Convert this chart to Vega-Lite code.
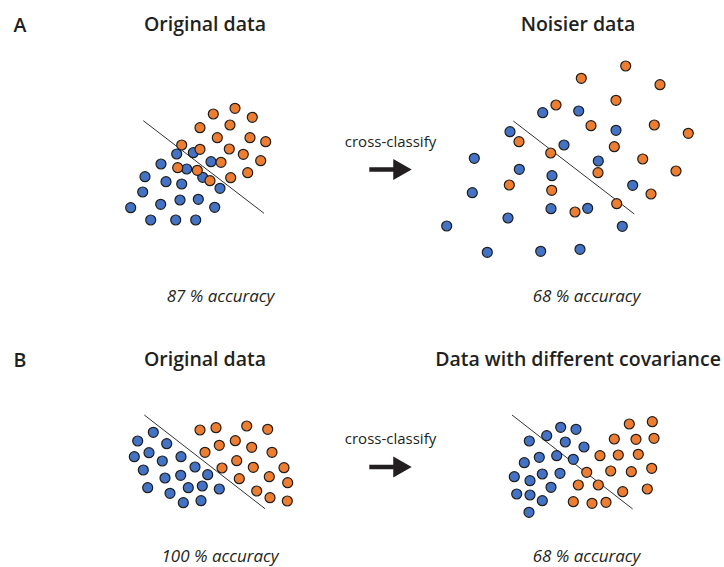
{
  "$schema": "https://vega.github.io/schema/vega-lite/v6.json",
  "padding": {"left": 13, "top": 10, "right": 2, "bottom": 2},
  "background": "white",
  "columns": 3,
  "bounds": "flush",
  "align": "each",
  "spacing": {"row": 78, "column": 0},
  "config": {
    "view": {"stroke": null},
    "axis": {"domain": false, "ticks": false, "labels": false, "grid": false},
    "title": {"font": "Open Sans", "fontSize": 19.5, "fontWeight": 600, "color": "#231f20", "baseline": "bottom", "anchor": "middle", "frame": "group"}
  },
  "datasets": {
    "steps": [{"step": "cross-classify"}],
    "lines": [
      {"panel": "A1", "x": 143.3, "y": 120.7, "x2": 264, "y2": 213.3},
      {"panel": "A2", "x": 513.3, "y": 121, "x2": 634.3, "y2": 214},
      {"panel": "B1", "x": 144.3, "y": 415, "x2": 265, "y2": 508.7},
      {"panel": "B2", "x": 512, "y": 415, "x2": 632.7, "y2": 509}
    ],
    "points": [
      {"panel": "A1", "cls": "class 1", "x": 176.7, "y": 154},
      {"panel": "A1", "cls": "class 1", "x": 193.3, "y": 152.7},
      {"panel": "A1", "cls": "class 1", "x": 211, "y": 161.7},
      {"panel": "A1", "cls": "class 1", "x": 161, "y": 164},
      {"panel": "A1", "cls": "class 1", "x": 186.7, "y": 169},
      {"panel": "A1", "cls": "class 1", "x": 145, "y": 176.7},
      {"panel": "A1", "cls": "class 1", "x": 166, "y": 181.7},
      {"panel": "A1", "cls": "class 1", "x": 181.7, "y": 184},
      {"panel": "A1", "cls": "class 1", "x": 202.7, "y": 177.3},
      {"panel": "A1", "cls": "class 1", "x": 220, "y": 188.3},
      {"panel": "A1", "cls": "class 1", "x": 142.7, "y": 192},
      {"panel": "A1", "cls": "class 1", "x": 160.7, "y": 204.3},
      {"panel": "A1", "cls": "class 1", "x": 180, "y": 200},
      {"panel": "A1", "cls": "class 1", "x": 198.3, "y": 199.3},
      {"panel": "A1", "cls": "class 1", "x": 214.7, "y": 207.3},
      {"panel": "A1", "cls": "class 1", "x": 130.7, "y": 207.7},
      {"panel": "A1", "cls": "class 1", "x": 150.7, "y": 220},
      {"panel": "A1", "cls": "class 1", "x": 175.7, "y": 220},
      {"panel": "A1", "cls": "class 1", "x": 195.7, "y": 220},
      {"panel": "A1", "cls": "class 2", "x": 235, "y": 108.3},
      {"panel": "A1", "cls": "class 2", "x": 213.3, "y": 114},
      {"panel": "A1", "cls": "class 2", "x": 252.3, "y": 117.3},
      {"panel": "A1", "cls": "class 2", "x": 200, "y": 127.7},
      {"panel": "A1", "cls": "class 2", "x": 230, "y": 125},
      {"panel": "A1", "cls": "class 2", "x": 217.3, "y": 137.7},
      {"panel": "A1", "cls": "class 2", "x": 250, "y": 137.7},
      {"panel": "A1", "cls": "class 2", "x": 265.7, "y": 141.7},
      {"panel": "A1", "cls": "class 2", "x": 181.7, "y": 145},
      {"panel": "A1", "cls": "class 2", "x": 200, "y": 149.3},
      {"panel": "A1", "cls": "class 2", "x": 229.3, "y": 149},
      {"panel": "A1", "cls": "class 2", "x": 243.3, "y": 154.3},
      {"panel": "A1", "cls": "class 2", "x": 260.7, "y": 160.7},
      {"panel": "A1", "cls": "class 2", "x": 221, "y": 162.3},
      {"panel": "A1", "cls": "class 2", "x": 177.7, "y": 167.7},
      {"panel": "A1", "cls": "class 2", "x": 197.3, "y": 170.3},
      {"panel": "A1", "cls": "class 2", "x": 247.7, "y": 172.7},
      {"panel": "A1", "cls": "class 2", "x": 230.7, "y": 177.7},
      {"panel": "A1", "cls": "class 2", "x": 210, "y": 180.7},
      {"panel": "A2", "cls": "class 1", "x": 542.7, "y": 112.7},
      {"panel": "A2", "cls": "class 1", "x": 578.7, "y": 111},
      {"panel": "A2", "cls": "class 1", "x": 510, "y": 131.7},
      {"panel": "A2", "cls": "class 1", "x": 616, "y": 130.3},
      {"panel": "A2", "cls": "class 1", "x": 564, "y": 145},
      {"panel": "A2", "cls": "class 1", "x": 474.3, "y": 158.3},
      {"panel": "A2", "cls": "class 1", "x": 598.3, "y": 161},
      {"panel": "A2", "cls": "class 1", "x": 519.3, "y": 169.3},
      {"panel": "A2", "cls": "class 1", "x": 552, "y": 175.7},
      {"panel": "A2", "cls": "class 1", "x": 632.7, "y": 185.3},
      {"panel": "A2", "cls": "class 1", "x": 472.3, "y": 192.7},
      {"panel": "A2", "cls": "class 1", "x": 551, "y": 208.7},
      {"panel": "A2", "cls": "class 1", "x": 587.7, "y": 208.3},
      {"panel": "A2", "cls": "class 1", "x": 508, "y": 218},
      {"panel": "A2", "cls": "class 1", "x": 446.7, "y": 226},
      {"panel": "A2", "cls": "class 1", "x": 622.3, "y": 226.3},
      {"panel": "A2", "cls": "class 1", "x": 487.3, "y": 252.3},
      {"panel": "A2", "cls": "class 1", "x": 540.7, "y": 251.3},
      {"panel": "A2", "cls": "class 1", "x": 580, "y": 249.3},
      {"panel": "A2", "cls": "class 2", "x": 625.7, "y": 66},
      {"panel": "A2", "cls": "class 2", "x": 581.3, "y": 78.3},
      {"panel": "A2", "cls": "class 2", "x": 660, "y": 84.7},
      {"panel": "A2", "cls": "class 2", "x": 556, "y": 105},
      {"panel": "A2", "cls": "class 2", "x": 616, "y": 100.3},
      {"panel": "A2", "cls": "class 2", "x": 591, "y": 125.7},
      {"panel": "A2", "cls": "class 2", "x": 654.3, "y": 125},
      {"panel": "A2", "cls": "class 2", "x": 688.3, "y": 133.3},
      {"panel": "A2", "cls": "class 2", "x": 519, "y": 141.7},
      {"panel": "A2", "cls": "class 2", "x": 614.3, "y": 146.7},
      {"panel": "A2", "cls": "class 2", "x": 550.7, "y": 153},
      {"panel": "A2", "cls": "class 2", "x": 642.7, "y": 159},
      {"panel": "A2", "cls": "class 2", "x": 676, "y": 171},
      {"panel": "A2", "cls": "class 2", "x": 598, "y": 172.7},
      {"panel": "A2", "cls": "class 2", "x": 509.3, "y": 185},
      {"panel": "A2", "cls": "class 2", "x": 551.7, "y": 190.3},
      {"panel": "A2", "cls": "class 2", "x": 651, "y": 194},
      {"panel": "A2", "cls": "class 2", "x": 616.7, "y": 203.7},
      {"panel": "A2", "cls": "class 2", "x": 575, "y": 212},
      {"panel": "B1", "cls": "class 1", "x": 153.3, "y": 432.3},
      {"panel": "B1", "cls": "class 1", "x": 137.7, "y": 441},
      {"panel": "B1", "cls": "class 1", "x": 166.7, "y": 443.7},
      {"panel": "B1", "cls": "class 1", "x": 149, "y": 452.7},
      {"panel": "B1", "cls": "class 1", "x": 134.3, "y": 456.7},
      {"panel": "B1", "cls": "class 1", "x": 181, "y": 456.7},
      {"panel": "B1", "cls": "class 1", "x": 162.3, "y": 461},
      {"panel": "B1", "cls": "class 1", "x": 143.3, "y": 470},
      {"panel": "B1", "cls": "class 1", "x": 195, "y": 467},
      {"panel": "B1", "cls": "class 1", "x": 207.7, "y": 474.7},
      {"panel": "B1", "cls": "class 1", "x": 165, "y": 478},
      {"panel": "B1", "cls": "class 1", "x": 180.7, "y": 475.3},
      {"panel": "B1", "cls": "class 1", "x": 147.7, "y": 487.7},
      {"panel": "B1", "cls": "class 1", "x": 202.3, "y": 486},
      {"panel": "B1", "cls": "class 1", "x": 188.3, "y": 487.7},
      {"panel": "B1", "cls": "class 1", "x": 219.3, "y": 489},
      {"panel": "B1", "cls": "class 1", "x": 170, "y": 493.3},
      {"panel": "B1", "cls": "class 1", "x": 183.3, "y": 502.7},
      {"panel": "B1", "cls": "class 1", "x": 201, "y": 500.7},
      {"panel": "B1", "cls": "class 2", "x": 200, "y": 430},
      {"panel": "B1", "cls": "class 2", "x": 216, "y": 427.7},
      {"panel": "B1", "cls": "class 2", "x": 246.7, "y": 426},
      {"panel": "B1", "cls": "class 2", "x": 267.7, "y": 429.3},
      {"panel": "B1", "cls": "class 2", "x": 235.3, "y": 440.7},
      {"panel": "B1", "cls": "class 2", "x": 219.3, "y": 445.3},
      {"panel": "B1", "cls": "class 2", "x": 251.7, "y": 447.3},
      {"panel": "B1", "cls": "class 2", "x": 205, "y": 452.3},
      {"panel": "B1", "cls": "class 2", "x": 272, "y": 452.3},
      {"panel": "B1", "cls": "class 2", "x": 236.7, "y": 460.7},
      {"panel": "B1", "cls": "class 2", "x": 222, "y": 468},
      {"panel": "B1", "cls": "class 2", "x": 253.3, "y": 467.3},
      {"panel": "B1", "cls": "class 2", "x": 284, "y": 467.7},
      {"panel": "B1", "cls": "class 2", "x": 239.3, "y": 478.7},
      {"panel": "B1", "cls": "class 2", "x": 269.3, "y": 476.7},
      {"panel": "B1", "cls": "class 2", "x": 287.7, "y": 482.7},
      {"panel": "B1", "cls": "class 2", "x": 256.7, "y": 491},
      {"panel": "B1", "cls": "class 2", "x": 270, "y": 497.7},
      {"panel": "B1", "cls": "class 2", "x": 287.3, "y": 501},
      {"panel": "B2", "cls": "class 1", "x": 560.7, "y": 427.3},
      {"panel": "B2", "cls": "class 1", "x": 576, "y": 429.3},
      {"panel": "B2", "cls": "class 1", "x": 546.7, "y": 435.7},
      {"panel": "B2", "cls": "class 1", "x": 529.3, "y": 441},
      {"panel": "B2", "cls": "class 1", "x": 565.3, "y": 442},
      {"panel": "B2", "cls": "class 1", "x": 584, "y": 447},
      {"panel": "B2", "cls": "class 1", "x": 539.3, "y": 457.3},
      {"panel": "B2", "cls": "class 1", "x": 556.7, "y": 455.7},
      {"panel": "B2", "cls": "class 1", "x": 573.3, "y": 459.3},
      {"panel": "B2", "cls": "class 1", "x": 524.3, "y": 462.7},
      {"panel": "B2", "cls": "class 1", "x": 542.3, "y": 474},
      {"panel": "B2", "cls": "class 1", "x": 560, "y": 473.3},
      {"panel": "B2", "cls": "class 1", "x": 514.3, "y": 476.7},
      {"panel": "B2", "cls": "class 1", "x": 530, "y": 480.7},
      {"panel": "B2", "cls": "class 1", "x": 551, "y": 487.3},
      {"panel": "B2", "cls": "class 1", "x": 516.7, "y": 494},
      {"panel": "B2", "cls": "class 1", "x": 530, "y": 495},
      {"panel": "B2", "cls": "class 1", "x": 542.3, "y": 500.7},
      {"panel": "B2", "cls": "class 1", "x": 529, "y": 512.3},
      {"panel": "B2", "cls": "class 2", "x": 629.3, "y": 424},
      {"panel": "B2", "cls": "class 2", "x": 652.3, "y": 421.7},
      {"panel": "B2", "cls": "class 2", "x": 614.3, "y": 439},
      {"panel": "B2", "cls": "class 2", "x": 636, "y": 439.3},
      {"panel": "B2", "cls": "class 2", "x": 654, "y": 438.3},
      {"panel": "B2", "cls": "class 2", "x": 600, "y": 455.7},
      {"panel": "B2", "cls": "class 2", "x": 618.3, "y": 455},
      {"panel": "B2", "cls": "class 2", "x": 638.3, "y": 454.3},
      {"panel": "B2", "cls": "class 2", "x": 586.7, "y": 472.3},
      {"panel": "B2", "cls": "class 2", "x": 610.7, "y": 471},
      {"panel": "B2", "cls": "class 2", "x": 631.3, "y": 471.7},
      {"panel": "B2", "cls": "class 2", "x": 651.7, "y": 468.3},
      {"panel": "B2", "cls": "class 2", "x": 578.3, "y": 485},
      {"panel": "B2", "cls": "class 2", "x": 598.3, "y": 485},
      {"panel": "B2", "cls": "class 2", "x": 622.7, "y": 491.7},
      {"panel": "B2", "cls": "class 2", "x": 647.3, "y": 489},
      {"panel": "B2", "cls": "class 2", "x": 573.3, "y": 501.7},
      {"panel": "B2", "cls": "class 2", "x": 592, "y": 503.3},
      {"panel": "B2", "cls": "class 2", "x": 606, "y": 502.3}
    ]
  },
  "concat": [
    {
      "width": 170, "height": 252,
      "title": {"text": "Original data", "offset": -25},
      "encoding": {
        "x": {"field": "x", "type": "quantitative", "scale": {"domain": [120, 290], "nice": false, "zero": false},
              "axis": {"title": "87 % accuracy", "titleFont": "Open Sans", "titleFontStyle": "italic", "titleFontWeight": "normal", "titleFontSize": 17, "titleColor": "#231f20", "titleX": 100, "titleY": 39, "titleBaseline": "alphabetic", "titleAlign": "center"}},
        "y": {"field": "y", "type": "quantitative", "scale": {"domain": [10, 262], "reverse": true, "nice": false, "zero": false},
              "axis": {"title": "A", "titleFont": "Open Sans", "titleFontWeight": 600, "titleFontSize": 19.5, "titleColor": "#231f20", "titleAngle": 0, "titleAlign": "left", "titleBaseline": "alphabetic", "titleX": -107, "titleY": 21}}
      },
      "layer": [
        {"data": {"name": "lines"}, "transform": [{"filter": "datum.panel === 'A1'"}],
         "mark": {"type": "rule", "color": "#333333", "strokeWidth": 1},
         "encoding": {"x2": {"field": "x2"}, "y2": {"field": "y2"}}},
        {"data": {"name": "points"}, "transform": [{"filter": "datum.panel === 'A1'"}],
         "mark": {"type": "point", "filled": true, "size": 100, "stroke": "#1e1e1e", "strokeWidth": 1.2, "opacity": 1},
         "encoding": {"color": {"field": "cls", "type": "nominal", "scale": {"domain": ["class 1", "class 2"], "range": ["#4472C4", "#ED7D31"]}, "legend": null}}}
      ]
    },
    {
      "width": 201, "height": 252,
      "data": {"name": "steps"},
      "layer": [
        {"mark": {"type": "text", "font": "Open Sans", "fontSize": 15, "baseline": "alphabetic", "align": "center", "color": "#231f20", "yOffset": 10.7},
         "encoding": {"text": {"field": "step"}}},
        {"mark": {"type": "point", "shape": "M -1 -0.11 L 0.13 -0.11 L 0.13 -0.5 L 1 0 L 0.13 0.5 L 0.13 0.11 L -1 0.11 Z", "size": 1798, "filled": true, "color": "#231f20", "strokeWidth": 0, "opacity": 1, "yOffset": 33.5},
         "encoding": {}}
      ]
    },
    {
      "width": 174, "height": 252,
      "title": {"text": "Noisier data", "offset": -25},
      "encoding": {
        "x": {"field": "x", "type": "quantitative", "scale": {"domain": [491, 665], "nice": false, "zero": false},
              "axis": {"title": "68 % accuracy", "titleFont": "Open Sans", "titleFontStyle": "italic", "titleFontWeight": "normal", "titleFontSize": 17, "titleColor": "#231f20", "titleX": 95, "titleY": 39, "titleBaseline": "alphabetic", "titleAlign": "center"}},
        "y": {"field": "y", "type": "quantitative", "scale": {"domain": [10, 262], "reverse": true, "nice": false, "zero": false}, "axis": null}
      },
      "layer": [
        {"data": {"name": "lines"}, "transform": [{"filter": "datum.panel === 'A2'"}],
         "mark": {"type": "rule", "color": "#333333", "strokeWidth": 1},
         "encoding": {"x2": {"field": "x2"}, "y2": {"field": "y2"}}},
        {"data": {"name": "points"}, "transform": [{"filter": "datum.panel === 'A2'"}],
         "mark": {"type": "point", "filled": true, "size": 100, "stroke": "#1e1e1e", "strokeWidth": 1.2, "opacity": 1},
         "encoding": {"color": {"field": "cls", "type": "nominal", "scale": {"domain": ["class 1", "class 2"], "range": ["#4472C4", "#ED7D31"]}, "legend": null}}}
      ]
    },
    {
      "width": 170, "height": 182,
      "title": {"text": "Original data", "offset": -30},
      "encoding": {
        "x": {"field": "x", "type": "quantitative", "scale": {"domain": [120, 290], "nice": false, "zero": false},
              "axis": {"title": "100 % accuracy", "titleFont": "Open Sans", "titleFontStyle": "italic", "titleFontWeight": "normal", "titleFontSize": 17, "titleColor": "#231f20", "titleX": 99.5, "titleY": 39, "titleBaseline": "alphabetic", "titleAlign": "center"}},
        "y": {"field": "y", "type": "quantitative", "scale": {"domain": [340, 522], "reverse": true, "nice": false, "zero": false},
              "axis": {"title": "B", "titleFont": "Open Sans", "titleFontWeight": 600, "titleFontSize": 19.5, "titleColor": "#231f20", "titleAngle": 0, "titleAlign": "left", "titleBaseline": "alphabetic", "titleX": -107, "titleY": 26}}
      },
      "layer": [
        {"data": {"name": "lines"}, "transform": [{"filter": "datum.panel === 'B1'"}],
         "mark": {"type": "rule", "color": "#333333", "strokeWidth": 1},
         "encoding": {"x2": {"field": "x2"}, "y2": {"field": "y2"}}},
        {"data": {"name": "points"}, "transform": [{"filter": "datum.panel === 'B1'"}],
         "mark": {"type": "point", "filled": true, "size": 100, "stroke": "#1e1e1e", "strokeWidth": 1.2, "opacity": 1},
         "encoding": {"color": {"field": "cls", "type": "nominal", "scale": {"domain": ["class 1", "class 2"], "range": ["#4472C4", "#ED7D31"]}, "legend": null}}}
      ]
    },
    {
      "width": 201, "height": 182,
      "data": {"name": "steps"},
      "layer": [
        {"mark": {"type": "text", "font": "Open Sans", "fontSize": 15, "baseline": "alphabetic", "align": "center", "color": "#231f20", "yOffset": 13},
         "encoding": {"text": {"field": "step"}}},
        {"mark": {"type": "point", "shape": "M -1 -0.11 L 0.13 -0.11 L 0.13 -0.5 L 1 0 L 0.13 0.5 L 0.13 0.11 L -1 0.11 Z", "size": 1798, "filled": true, "color": "#231f20", "strokeWidth": 0, "opacity": 1, "yOffset": 36},
         "encoding": {}}
      ]
    },
    {
      "width": 174, "height": 182,
      "title": {"text": "Data with different covariance", "offset": -30},
      "encoding": {
        "x": {"field": "x", "type": "quantitative", "scale": {"domain": [491, 665], "nice": false, "zero": false},
              "axis": {"title": "68 % accuracy", "titleFont": "Open Sans", "titleFontStyle": "italic", "titleFontWeight": "normal", "titleFontSize": 17, "titleColor": "#231f20", "titleX": 95, "titleY": 39, "titleBaseline": "alphabetic", "titleAlign": "center"}},
        "y": {"field": "y", "type": "quantitative", "scale": {"domain": [340, 522], "reverse": true, "nice": false, "zero": false}, "axis": null}
      },
      "layer": [
        {"data": {"name": "lines"}, "transform": [{"filter": "datum.panel === 'B2'"}],
         "mark": {"type": "rule", "color": "#333333", "strokeWidth": 1},
         "encoding": {"x2": {"field": "x2"}, "y2": {"field": "y2"}}},
        {"data": {"name": "points"}, "transform": [{"filter": "datum.panel === 'B2'"}],
         "mark": {"type": "point", "filled": true, "size": 100, "stroke": "#1e1e1e", "strokeWidth": 1.2, "opacity": 1},
         "encoding": {"color": {"field": "cls", "type": "nominal", "scale": {"domain": ["class 1", "class 2"], "range": ["#4472C4", "#ED7D31"]}, "legend": null}}}
      ]
    }
  ]
}
